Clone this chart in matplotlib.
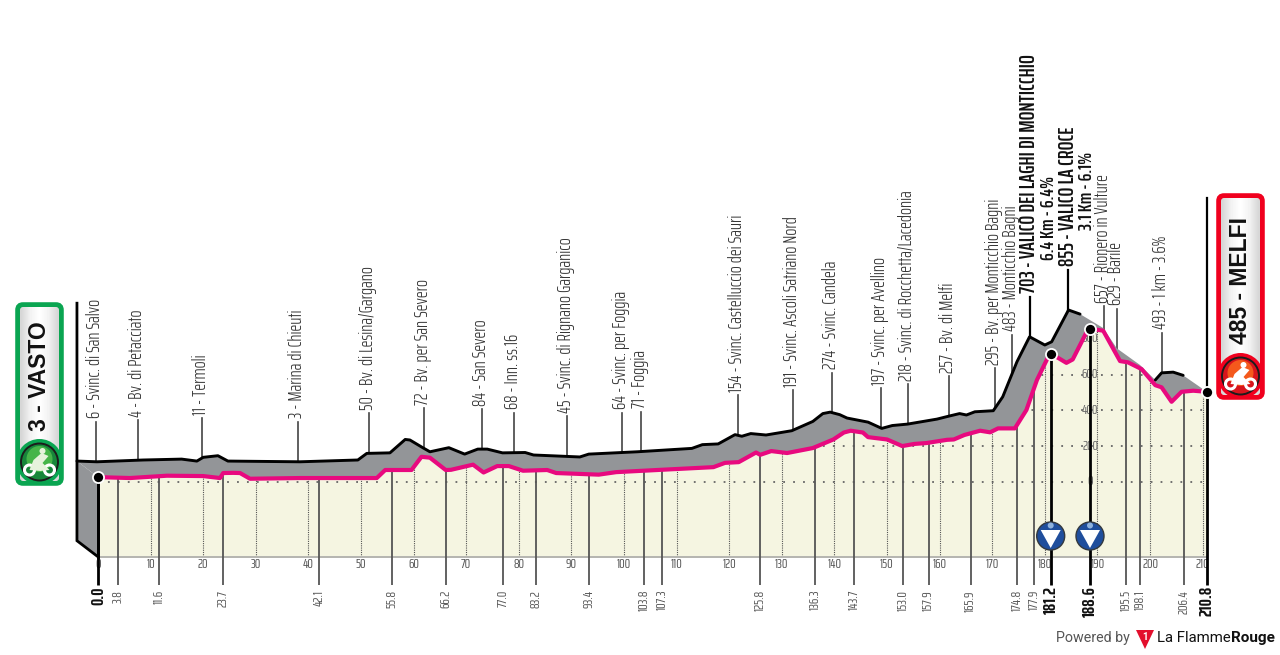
import numpy as np
import matplotlib
matplotlib.use("Agg")
from matplotlib import pyplot as plt
from matplotlib.patches import Circle, FancyBboxPatch, Polygon

NARROW = ['Saira ExtraCondensed', 'Liberation Sans Narrow', 'DejaVu Sans']

# front profile (pink): km, metres
road_km = [0, 6.1, 13.1, 20.0, 23.2, 23.8, 25.7, 27.0, 28.9, 38.4, 53.0, 54.6, 59.6, 61.5, 63.1, 66.1,
           67.1, 71.3, 73.3, 75.9, 78.1, 80.8, 85.4, 87.1, 95.2, 98.5, 107.0, 117.0, 119.2, 121.8, 125.1,
           125.9, 128.0, 131.0, 135.9, 139.8, 141.8, 143.1, 145.4, 146.4, 150.0, 152.9, 155.2, 157.5,
           161.4, 162.7, 164.7, 167.7, 169.6, 171.1, 174.3, 176.5, 178.5, 181.0, 184.1, 185.3, 188.3,
           191.1, 194.3, 195.8, 198.4, 201.0, 202.2, 204.1, 206.0, 208.2, 210.8]
road_m = [26, 21, 34, 32, 21, 49, 50, 49, 17, 21, 21, 66, 66, 140, 135, 66,
          67, 96, 52, 88, 88, 62, 66, 49, 40, 54, 67, 82, 106, 110, 164,
          151, 172, 161, 189, 237, 276, 286, 276, 250, 237, 200, 212, 217,
          235, 237, 262, 286, 277, 299, 299, 402, 570, 721, 666, 685, 859,
          846, 676, 669, 631, 541, 529, 448, 504, 510, 504]

# back edge of the 3d band
back_km = [-4.0, -0.2, 8.6, 15.9, 18.8, 20.0, 22.8, 24.7, 38.4, 49.4, 51.1, 55.5, 58.4, 59.3, 61.8, 63.1,
           66.7, 69.7, 72.2, 74.0, 76.9, 81.2, 82.8, 91.6, 93.3, 102.5, 112.9, 114.9, 117.9, 121.1, 122.4,
           124.1, 127.0, 131.9, 135.9, 137.8, 139.2, 141.0, 142.4, 146.4, 149.0, 151.0, 153.9, 159.5,
           161.8, 163.8, 165.1, 166.7, 170.2, 172.0, 174.7, 177.1, 180.0, 181.3, 184.5, 186.7, 191.1,
           193.7, 198.1, 201.0, 202.2, 204.4, 206.3, 210.8]
back_m = [116, 112, 122, 127, 116, 137, 146, 116, 112, 122, 159, 162, 237, 234, 190, 168,
          191, 155, 183, 183, 162, 164, 150, 139, 155, 168, 187, 208, 212, 264, 255,
          270, 262, 286, 338, 382, 390, 376, 357, 334, 299, 315, 323, 351,
          368, 382, 374, 392, 398, 476, 672, 812, 766, 784, 962, 939, 861,
          747, 654, 570, 610, 614, 596, 504]

place_km = [-0.3, 7.6, 19.7, 38.0, 51.6, 62.0, 73.0, 79.1, 89.2, 99.6, 103.2, 121.7, 132.1, 139.5, 148.9,
            153.9, 161.8, 170.5, 173.7, 191.3, 193.8, 202.2]
place_labels = ["6 - Svinc. di San Salvo", "4 - Bv. di Petacciato", "11 - Termoli", "3 - Marina di Chieuti",
                "50 - Bv. di Lesina/Gargano", "72 - Bv. per San Severo", "84 - San Severo", "68 - Inn. ss.16",
                "45 - Svinc. di Rignano Garganico", "64 - Svinc. per Foggia", "71 - Foggia",
                "154 - Svinc. Castelluccio dei Sauri", "191 - Svinc. Ascoli Satriano Nord", "274 - Svinc. Candela",
                "197 - Svinc. per Avellino", "218 - Svinc. di Rocchetta/Lacedonia", "257 - Bv. di Melfi",
                "295 - Bv. per Monticchio Bagni", "483 - Monticchio Bagni", "657 - Rionero in Vulture",
                "629 - Barile", "493 - 1 km - 3.6%"]

dist_km = [3.8, 11.6, 23.7, 42.1, 55.8, 66.2, 77.0, 83.2, 93.4, 103.8, 107.3, 125.8, 136.3, 143.7, 153.0,
           157.9, 165.9, 174.8, 177.9, 195.5, 198.1, 206.4]
main_km = [0.0, 181.2, 188.6, 210.8]
km_ticks = list(range(0, 211, 10))
alt_ticks = [0, 200, 400, 600, 800]

GREY = '#939598'
PINK = '#e8097f'
CREAM = '#f5f5e1'
BASE = -420
TICK_END = -578
STUB = 224


def bike(ax, cx, cy, face, inner, rider):
    ax.add_patch(Circle((cx, cy), 18.5, fc=face, ec='#1c1c1c', lw=1.4, zorder=6))
    ax.add_patch(Circle((cx, cy - 3), 13, fc=inner, ec='none', zorder=6.1))
    for dx in (-10, 10):
        ax.add_patch(Circle((cx + dx, cy + 8), 5, fc='none', ec='white', lw=2.2, zorder=7))
    ax.add_patch(Polygon([(cx - 10, cy + 8), (cx - 6, cy - 2), (cx + 2, cy - 9), (cx + 9, cy - 6),
                          (cx + 3, cy + 1), (cx + 10, cy + 8), (cx + 1, cy + 9)],
                         fc=rider, ec='none', zorder=7))
    ax.add_patch(Circle((cx + 3, cy - 11), 3, fc=rider, ec='none', zorder=7))


def badge(ax, x0, y0, x1, y1, colour, text, text_y, cx, cy, face, inner, rider):
    box = FancyBboxPatch((x0 + 6, y0 + 6), x1 - x0 - 12, y1 - y0 - 12, boxstyle="round,pad=5,rounding_size=5",
                         fc='white', ec=colour, lw=4, zorder=4)
    ax.add_patch(box)
    grad = np.array([[0.84, 0.95, 1.0, 0.95, 0.84]])
    im = ax.imshow(grad, cmap='gray', vmin=0, vmax=1, extent=(x0, x1, y1, y0), aspect='auto', zorder=4.1,
                   interpolation='bilinear')
    im.set_clip_path(FancyBboxPatch((x0 + 6, y0 + 6), x1 - x0 - 12, y1 - y0 - 12,
                                    boxstyle="round,pad=3,rounding_size=3", transform=ax.transData))
    ax.add_patch(Circle((cx, cy), 23, fc=colour, ec='none', zorder=5))
    bike(ax, cx, cy, face, inner, rider)
    ax.text((x0 + x1) / 2, text_y, text, rotation=90, ha='center', va='center', fontsize=16.5,
            family=['Liberation Sans', 'DejaVu Sans'], fontweight='bold', color='#111111', zorder=8)


fig = plt.figure(figsize=(12.8, 6.55), dpi=100)
ax = fig.add_axes([0, 0, 1, 1])
ax.set_xlim(-18.63, 224.71)
ax.set_ylim(-970, 2698)
ax.axis('off')

# sloped left wall and the grey band
ax.fill([-4.0, 0, 0, -4.0], [116, 26, -420, -330], color=GREY, lw=0, zorder=2)
ax.fill(back_km + road_km[::-1], back_m + road_m[::-1], color=GREY, lw=0, zorder=2)

floor = ax.fill_between(road_km, road_m, BASE, color=CREAM, lw=0, zorder=1)
clip_poly = Polygon(list(zip(road_km, road_m)) + [(210.8, BASE), (0, BASE)], transform=ax.transData)

# dotted grid, only inside the profile
for a in alt_ticks[:-1]:
    ln, = ax.plot([0, 210.8], [a, a], color='#666666', lw=1.3, ls=(0, (1, 4.5)), zorder=1.5)
    ln.set_clip_path(clip_poly)
for k in km_ticks:
    ln, = ax.plot([k, k], [BASE, 1000], color='#555555', lw=0.8, ls=(0, (1, 1)), zorder=1.5)
    ln.set_clip_path(clip_poly)
ax.plot([0, 210.8], [BASE, BASE], color='#b5b5b0', lw=1.4, zorder=1.6)

for k in km_ticks:
    ax.text(k, -466, str(k), ha='center', va='center', fontsize=10, family=NARROW, color='#555555', zorder=3)
for a in alt_ticks:
    ax.text(188.6, a, str(a), ha='center', va='center', fontsize=10, family=NARROW, color='#666666', zorder=1.7)

# distance ticks below the profile
road_at = np.interp(dist_km, road_km, road_m)
ax.vlines(dist_km, TICK_END, road_at, color='#555555', lw=1.3, zorder=1.8)
for k in dist_km:
    ax.text(k, -606, f"{k:.1f}", rotation=90, ha='center', va='top', fontsize=10, family=NARROW,
            color='#555555', zorder=3)

main_at = np.interp(main_km, road_km, road_m)
ax.vlines(main_km, TICK_END, main_at, color='black', lw=2, zorder=3)
for k in main_km:
    ax.text(k, -585, f"{k:.1f}", rotation=90, ha='center', va='top', fontsize=13, family=NARROW,
            fontweight='bold', color='#111111', zorder=3)

# place names
for k, lab in zip(place_km, place_labels):
    base = np.interp(k, back_km, back_m)
    stub = 130 if lab.startswith("657") else STUB
    ax.plot([k, k], [base, base + stub], color='#444444', lw=1.2, zorder=1.9)
    ax.annotate(lab, (k, base + stub), xytext=(-0.7, 2.5), textcoords='offset points', rotation=90,
                ha='center', va='bottom', fontsize=13.3, family=NARROW, fontweight=300, color='#333333')

# climbs
climb_km = [177.1, 184.5]
climb_m = [812, 962]
climb_names = ["703 - VALICO DEI LAGHI DI MONTICCHIO", "855 - VALICO LA CROCE"]
climb_notes = ["6.4 Km - 6.4%", "3.1 Km - 6.1%"]
note_m = [1240, 1412]
for k, a, name, note, nm in zip(climb_km, climb_m, climb_names, climb_notes, note_m):
    ax.plot([k, k], [a, a + STUB], color='black', lw=1.6, zorder=1.9)
    ax.annotate(name, (k, a + STUB), xytext=(-0.7, 3), textcoords='offset points', rotation=90, ha='center',
                va='bottom', fontsize=15, family=NARROW, fontweight=600, color='#111111')
    ax.text(k + 3.6, nm, note, rotation=90, ha='center', va='bottom', fontsize=14, family=NARROW,
            fontweight=600, color='#111111')

# profile lines
ax.plot([-4.0, -4.0, 0], [1000, -330, -420], color='black', lw=2, zorder=4, solid_joinstyle='miter')
ax.plot([0, 0], [BASE, 26], color='black', lw=2, zorder=4)
ax.plot([210.8, 210.8], [504, 1590], color='black', lw=1.6, zorder=1.9)

back_km_a = np.array(back_km)
back_m_a = np.array(back_m)
front = back_km_a <= 186.8
rear = (back_km_a >= 201.0) & (back_km_a <= 206.3)
ax.plot(back_km_a[front], back_m_a[front], color='black', lw=2.1, zorder=3, solid_capstyle='round')
ax.plot(back_km_a[rear], back_m_a[rear], color='black', lw=2.1, zorder=3, solid_capstyle='round')
ax.plot(road_km, road_m, color=PINK, lw=3, zorder=3.5, solid_joinstyle='round')

ax.plot(main_km, main_at, 'o', ms=8, mfc='black', mec='white', mew=1.3, zorder=5)

# badges, icons and logo are drawn in pixels
deco = fig.add_axes([0, 0, 1, 1], zorder=5)
deco.patch.set_alpha(0)
deco.axis('off')

badge(deco, 17, 304, 62, 484, '#0aa551', "3 - VASTO", 376, 39.5, 462, '#17863a', '#46b549', '#e6f3dc')
badge(deco, 1218, 195, 1263, 398, '#f0001e', "485 - MELFI", 280, 1240.5, 376, '#d8141c', '#f4591c', 'white')

for cx in (1050.7, 1090):
    deco.add_patch(Circle((cx, 536), 14, fc='#1f4e9c', ec='#33393f', lw=1, zorder=6))
    deco.add_patch(Polygon([(cx - 10, 530), (cx + 10, 530), (cx, 548)], fc='white', ec='none', zorder=7))
    deco.add_patch(Circle((cx, 525.5), 3, fc='#8fb2dc', ec='none', zorder=7))

deco.text(1056, 638, "Powered by", ha='left', va='center', fontsize=10.3, family='Roboto', color='#555555')
deco.add_patch(Polygon([(1136, 630), (1154, 630), (1145, 649)], fc='#e30f2d', ec='none'))
deco.text(1145, 637, "1", ha='center', va='center', fontsize=7, family='Roboto', fontweight='bold', color='white')
deco.text(1157, 638, "La Flamme", ha='left', va='center', fontsize=10.7, family='Roboto', color='#111111')
deco.text(1231, 638, "Rouge", ha='left', va='center', fontsize=11, family='Roboto', fontweight='bold',
          color='#111111')

deco.set_xlim(0, 1280)
deco.set_ylim(655, 0)

fig.savefig("out.png", dpi=100)
